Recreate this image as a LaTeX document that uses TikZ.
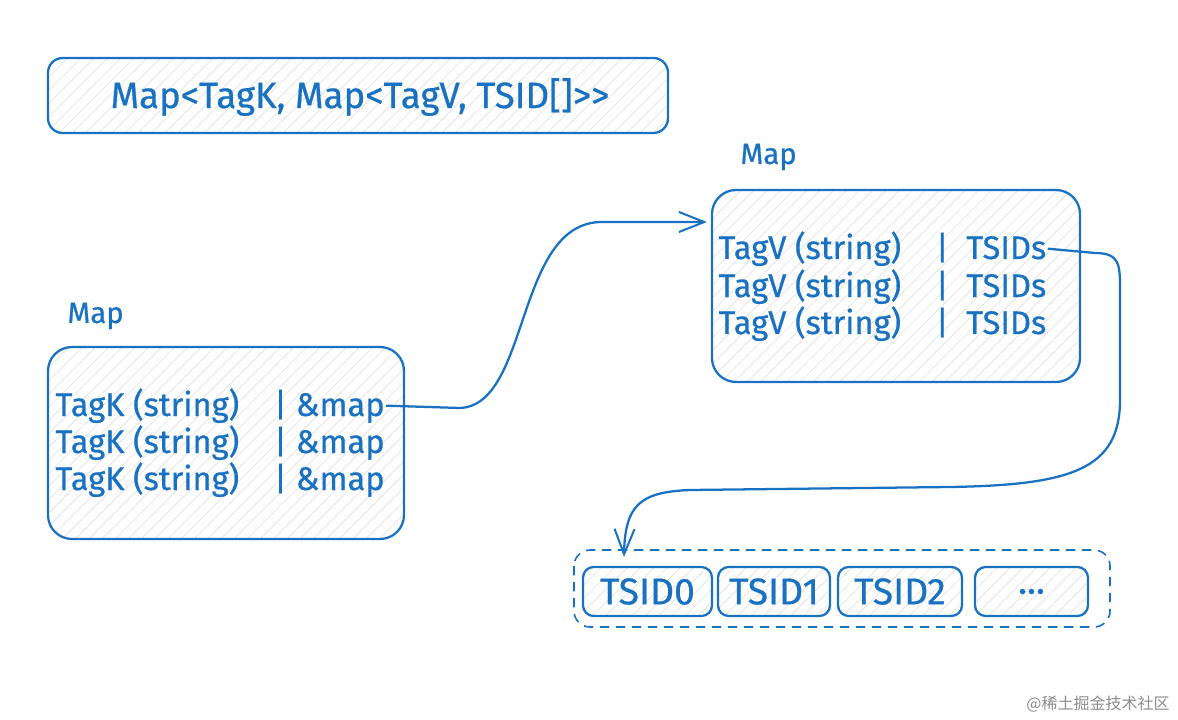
\documentclass[tikz,border=0pt]{standalone}
\usepackage{fontspec}
\setmainfont{Fira Sans}[Ligatures=NoCommon, FakeBold=0.6]
\newfontfamily\cjk{Noto Sans CJK SC}
\usetikzlibrary{patterns.meta,arrows.meta}

\definecolor{skblue}{RGB}{25,113,194}
\tikzset{every picture/.style={line width=0.75pt}}
\tikzset{
  sketchbox/.style={draw=skblue, line width=1.7pt, pattern={Lines[angle=45,distance=7pt,line width=0.5pt]}, pattern color=black!12},
  linetext/.style={text=skblue, inner sep=0.75pt, font=\fontsize{24.5}{28}\selectfont},
  labeltext/.style={text=skblue, inner sep=0.75pt, font=\fontsize{22}{26}\selectfont},
  flow/.style={draw=skblue, line width=1.7pt, -{Straight Barb[length=19pt,width=15pt,line width=1.5pt]}},
}

\begin{document}
\begin{tikzpicture}[x=0.75pt,y=0.75pt,yscale=-1,xscale=1]
\useasboundingbox (0,0) rectangle (1178,720);

%Shape: Rounded Rect (type)
\draw [sketchbox, rounded corners=11pt] (48,58) rectangle (668,133);
% Text Node
\node (typetext) [linetext, font=\fontsize{27.5}{32}\selectfont] at (360,97) {Map<TagK, Map<TagV, TSID[]>{}>};

% Text Node
\node (kmaplabel) [labeltext, anchor=west] at (66,316) {Map};
%Shape: Rounded Rect (key map)
\draw [sketchbox, rounded corners=18pt] (48,347) rectangle (404,539);
% Text Node
\node (kline1) [linetext, anchor=base west] at (54,416) {TagK (string)\ \ \ \ | \&map};
% Text Node
\node (kline2) [linetext, anchor=base west] at (54,453) {TagK (string)\ \ \ \ | \&map};
% Text Node
\node (kline3) [linetext, anchor=base west] at (54,490) {TagK (string)\ \ \ \ | \&map};

% Text Node
\node (vmaplabel) [labeltext, anchor=west] at (739,157) {Map};
%Shape: Rounded Rect (value map)
\draw [sketchbox, rounded corners=18pt] (712,190) rectangle (1080,382);
% Text Node
\node (vline1) [linetext, anchor=base west] at (717,259) {TagV (string)\ \ \ \ |\ \ TSIDs};
% Text Node
\node (vline2) [linetext, anchor=base west] at (717,297) {TagV (string)\ \ \ \ |\ \ TSIDs};
% Text Node
\node (vline3) [linetext, anchor=base west] at (717,334) {TagV (string)\ \ \ \ |\ \ TSIDs};

%Shape: Dashed Rounded Rect (tsid list)
\draw [draw=skblue, line width=1.2pt, dash pattern=on 7pt off 5pt, rounded corners=12pt] (574,550) rectangle (1110,627);
%Shape: Rounded Rect
\draw [sketchbox, rounded corners=8pt] (583,567) rectangle (712,616);
\node (tsid0) [linetext, font=\fontsize{28}{32}\selectfont] at (647.5,591.5) {TSID0};
%Shape: Rounded Rect
\draw [sketchbox, rounded corners=8pt] (718,567) rectangle (830,616);
\node (tsid1) [linetext, font=\fontsize{28}{32}\selectfont] at (774,591.5) {TSID1};
%Shape: Rounded Rect
\draw [sketchbox, rounded corners=8pt] (838,567) rectangle (962,616);
\node (tsid2) [linetext, font=\fontsize{28}{32}\selectfont] at (900,591.5) {TSID2};
%Shape: Rounded Rect
\draw [sketchbox, rounded corners=8pt] (975,567) rectangle (1088,616);
\node (tsidmore) [linetext, font=\fontsize{28}{32}\selectfont] at (1031.5,591.5) {...};

\coordinate (mapin) at (707,222);
\coordinate (tsin) at (624,557);

%Curve Lines
\draw [flow] (kline1.east) -- (460,408) .. controls (530,405) and (515,225) .. (600,222) -- (mapin);
%Curve Lines
\draw [flow] (vline1.east) -- (1095,253) .. controls (1120,253) and (1120,265) .. (1120,290) -- (1120,400) .. controls (1120,470) and (1070,485) .. (950,487) -- (690,490) .. controls (640,492) and (625,505) .. (tsin);

% Text Node
\node (mark) [anchor=east, text=black!45, inner sep=0pt, font=\cjk\fontsize{12}{14}\selectfont] at (1170,704) {@稀土掘金技术社区};

\end{tikzpicture}
\end{document}
